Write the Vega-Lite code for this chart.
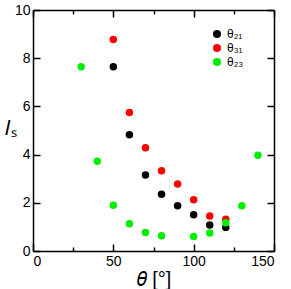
{
  "$schema": "https://vega.github.io/schema/vega-lite/v6.json",
  "width": 241,
  "height": 241,
  "autosize": {"type": "none"},
  "padding": {"left": 33, "top": 10, "right": 17, "bottom": 38},
  "background": "white",
  "config": {"view": {"stroke": null}, "font": "Liberation Sans"},
  "data": {"values": [
    {"theta": 50, "Is": 7.65, "s": "θ₂₁"},
    {"theta": 60, "Is": 4.82, "s": "θ₂₁"},
    {"theta": 70, "Is": 3.15, "s": "θ₂₁"},
    {"theta": 80, "Is": 2.35, "s": "θ₂₁"},
    {"theta": 90, "Is": 1.88, "s": "θ₂₁"},
    {"theta": 100, "Is": 1.5, "s": "θ₂₁"},
    {"theta": 110, "Is": 1.08, "s": "θ₂₁"},
    {"theta": 120, "Is": 0.98, "s": "θ₂₁"},
    {"theta": 50, "Is": 8.78, "s": "θ₃₁"},
    {"theta": 60, "Is": 5.75, "s": "θ₃₁"},
    {"theta": 70, "Is": 4.28, "s": "θ₃₁"},
    {"theta": 80, "Is": 3.33, "s": "θ₃₁"},
    {"theta": 90, "Is": 2.78, "s": "θ₃₁"},
    {"theta": 100, "Is": 2.13, "s": "θ₃₁"},
    {"theta": 110, "Is": 1.45, "s": "θ₃₁"},
    {"theta": 120, "Is": 1.32, "s": "θ₃₁"},
    {"theta": 30, "Is": 7.65, "s": "θ₂₃"},
    {"theta": 40, "Is": 3.72, "s": "θ₂₃"},
    {"theta": 50, "Is": 1.9, "s": "θ₂₃"},
    {"theta": 60, "Is": 1.13, "s": "θ₂₃"},
    {"theta": 70, "Is": 0.77, "s": "θ₂₃"},
    {"theta": 80, "Is": 0.63, "s": "θ₂₃"},
    {"theta": 100, "Is": 0.6, "s": "θ₂₃"},
    {"theta": 110, "Is": 0.75, "s": "θ₂₃"},
    {"theta": 120, "Is": 1.17, "s": "θ₂₃"},
    {"theta": 130, "Is": 1.88, "s": "θ₂₃"},
    {"theta": 140, "Is": 3.97, "s": "θ₂₃"}
  ]},
  "layer": [
    {
      "mark": {"type": "point", "filled": true, "opacity": 1, "size": 56},
      "encoding": {
        "x": {"field": "theta", "type": "quantitative", "scale": {"domain": [0, 150], "nice": false},
          "axis": {"orient": "bottom", "values": [0, 25, 50, 75, 100, 125, 150], "grid": false,
            "labelExpr": "datum.value % 50 === 0 ? datum.label : ''",
            "tickSize": {"condition": {"test": "datum.value % 50 === 0", "value": -7}, "value": -4},
            "labelPadding": 10, "labelFontSize": 14, "labelColor": "black", "tickColor": "black", "domainColor": "black", "domainWidth": 1.5, "tickWidth": 1.5,
            "title": "𝜃 [°]", "titleFontSize": 20, "titleFontWeight": "normal", "titleColor": "black", "titlePadding": 1}},
        "y": {"field": "Is", "type": "quantitative", "scale": {"domain": [0, 10], "nice": false},
          "axis": {"orient": "left", "values": [0, 2, 4, 6, 8, 10], "grid": false, "tickSize": -7,
            "labelPadding": 10, "labelFontSize": 14, "labelColor": "black", "tickColor": "black", "domainColor": "black", "domainWidth": 1.5, "tickWidth": 1.5,
            "title": "𝐼ₛ", "titleAngle": 0, "titleFontSize": 20, "titleFontWeight": "normal", "titleColor": "black", "titleX": -23, "titleY": 128, "titleAlign": "center"}},
        "color": {"field": "s", "type": "nominal",
          "scale": {"domain": ["θ₂₁", "θ₃₁", "θ₂₃"], "range": ["#000000", "#ff0000", "#00ee00"]},
          "legend": {"title": null, "orient": "none", "legendX": 178, "legendY": 18, "symbolSize": 64, "symbolType": "circle", "labelFontSize": 12, "rowPadding": 2, "symbolOpacity": 1, "labelColor": "black"}}
      }
    },
    {
      "mark": {"type": "point", "opacity": 0},
      "encoding": {
        "x": {"field": "theta", "type": "quantitative",
          "axis": {"orient": "top", "values": [0, 25, 50, 75, 100, 125, 150], "labels": false, "title": null, "grid": false,
            "tickSize": {"condition": {"test": "datum.value % 50 === 0", "value": -7}, "value": -4},
            "tickColor": "black", "domainColor": "black", "domainWidth": 1.5, "tickWidth": 1.5}},
        "y": {"field": "Is", "type": "quantitative",
          "axis": {"orient": "right", "values": [0, 2, 4, 6, 8, 10], "labels": false, "title": null, "grid": false, "tickSize": -7,
            "tickColor": "black", "domainColor": "black", "domainWidth": 1.5, "tickWidth": 1.5}}
      }
    }
  ],
  "resolve": {"axis": {"x": "independent", "y": "independent"}}
}
